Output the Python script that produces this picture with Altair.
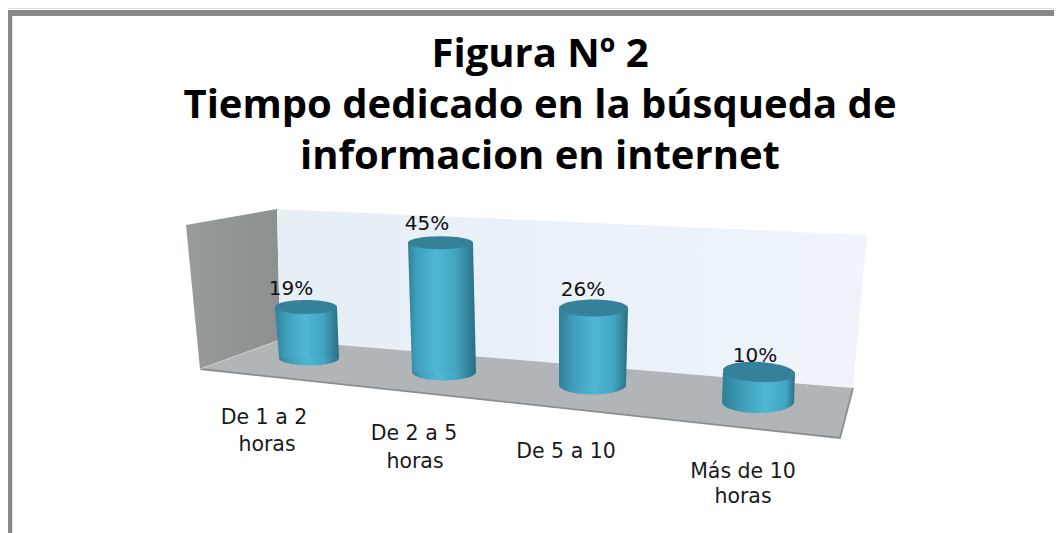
import altair as alt
import pandas as pd

# chart values
categories = ["De 1 a 2 horas", "De 2 a 5 horas", "De 5 a 10", "Más de 10 horas"]
percent = [19, 45, 26, 10]
title_lines = ["Figura Nº 2", "Tiempo dedicado en la búsqueda de", "informacion en internet"]
label_lines = [["De 1 a 2", "horas"], ["De 2 a 5", "horas"], ["De 5 a 10"], ["Más de 10", "horas"]]

# scene geometry, in page pixels
W, H = 1054, 533
left_wall = [(186, 225), (277, 209), (280, 340), (200, 369)]
back_wall = [(277, 209), (867, 235), (853, 388), (280, 340)]
floor = [(200, 369), (280, 340), (853, 388), (840, 438)]
base_y = [358, 372, 385, 402]
px_per_pct = [2.68, 2.87, 2.96, 3.0]
top_x = [(275, 337), (408, 473), (559, 628), (723, 795)]
bot_x = [(279, 339), (412, 476), (559, 626), (722, 794)]
top_ry = [7, 6.5, 8.5, 10]
bot_ry = [7.5, 8.5, 9.5, 11]
highlight = [0.47, 0.42, 0.52, 0.6]
label_x = [291, 427, 583, 755]
label_gap = [12, 13, 12, 10]
cat_x = [[264, 267], [414, 415], [566], [743, 743]]
cat_y = [[424, 451], [440, 468], [458], [478, 503]]

x_scale = alt.Scale(domain=[8, W], range=[0, W - 8], nice=False, zero=False)
y_scale = alt.Scale(domain=[H, 8], range=[H - 8, 0], nice=False, zero=False)
X = alt.X("x:Q", scale=x_scale, axis=None)
Y = alt.Y("y:Q", scale=y_scale, axis=None)


def polygon_rows(pts):
    xs = sorted({p[0] for p in pts})
    rows = []
    n = len(pts)
    for x in xs:
        ys = []
        for i in range(n):
            (x0, y0), (x1, y1) = pts[i], pts[(i + 1) % n]
            if min(x0, x1) <= x <= max(x0, x1):
                if x0 == x1:
                    ys += [y0, y1]
                else:
                    ys.append(y0 + (y1 - y0) * (x - x0) / (x1 - x0))
        rows.append({"x": x, "y": min(ys), "y2": max(ys)})
    return pd.DataFrame(rows)


def h_gradient(stops):
    return alt.Gradient(
        gradient="linear", x1=0, x2=1, y1=0, y2=0,
        stops=[alt.GradientStop(offset=o, color=c) for o, c in stops],
    )


def polygon(pts, fill):
    return alt.Chart(polygon_rows(pts)).mark_area(color=fill, line=False, opacity=1).encode(
        x=X, y=Y, y2="y2:Q"
    )


def polyline(pts, color, width):
    df = pd.DataFrame([{"x": a, "y": b, "i": i} for i, (a, b) in enumerate(pts)])
    return alt.Chart(df).mark_line(color=color, strokeWidth=width).encode(
        x=alt.X("x:Q", scale=x_scale, axis=None, sort=None), y=Y, order="i:Q"
    )


def ellipse(cx, cy, rx, ry, fill, angle=0):
    k = ry / rx
    path = f"M -1 0 A 1 {k:.4f} 0 1 0 1 0 A 1 {k:.4f} 0 1 0 -1 0 Z"
    df = pd.DataFrame([{"x": cx, "y": cy}])
    return alt.Chart(df).mark_point(
        shape=path, size=(2 * rx) ** 2, filled=True, fill=fill, opacity=1,
        strokeWidth=0, angle=angle,
    ).encode(x=X, y=Y)


layers = [
    polygon(left_wall, h_gradient([(0, "#979b9c"), (1, "#8c9091")])),
    polygon(back_wall, h_gradient([(0, "#e6eef6"), (1, "#eef4fa")])),
    polygon(floor, "#b1b5b8"),
    polyline([(200, 369), (840, 438), (853, 388)], "#8b8e90", 1.8),
    polyline([(200, 369), (280, 340)], "#c9cccd", 1),
]

for i, v in enumerate(percent):
    base = base_y[i]
    top = base - v * px_per_pct[i]
    h = highlight[i]
    grad = h_gradient([
        (0, "#2f7f98"), (max(h - 0.3, 0.05), "#3f9fbb"), (h, "#4fb7d5"),
        (min(h + 0.28, 0.92), "#43a5c2"), (1, "#2a6e84"),
    ])
    tl, tr = top_x[i]
    bl, br = bot_x[i]
    bcx, brx = (bl + br) / 2, (br - bl) / 2
    layers.append(ellipse(bcx, base, brx, bot_ry[i], grad))
    layers.append(polygon([(tl, top), (tr, top), (br, base), (bl, base)], grad))
    layers.append(ellipse((tl + tr) / 2, top, (tr - tl) / 2, top_ry[i], "#36819a",
                          angle=3 if i == 3 else 0))

value_df = pd.DataFrame({
    "x": label_x,
    "y": [base_y[i] - percent[i] * px_per_pct[i] - label_gap[i] for i in range(4)],
    "label": [f"{v}%" for v in percent],
})
layers.append(
    alt.Chart(value_df).mark_text(font="DejaVu Sans", fontSize=20, color="#111111",
                                  baseline="alphabetic", align="center").encode(
        x=X, y=Y, text="label:N")
)

cat_rows = []
for i, lines in enumerate(label_lines):
    for j, line in enumerate(lines):
        cat_rows.append({"x": cat_x[i][j], "y": cat_y[i][j], "label": line, "category": categories[i]})
layers.append(
    alt.Chart(pd.DataFrame(cat_rows)).mark_text(font="DejaVu Sans", fontSize=20.5, color="#1a1a1a",
                                                baseline="alphabetic", align="center").encode(
        x=X, y=Y, text="label:N")
)

# gray frame, top and left only
layers.append(alt.Chart(pd.DataFrame({"x": [9.5], "y": [10], "y2": [H]})).mark_rule(
    color="#888888", strokeWidth=5.5).encode(x=X, y=Y, y2="y2:Q"))
layers.append(alt.Chart(pd.DataFrame({"x": [7], "x2": [W], "y": [13]})).mark_rule(
    color="#888888", strokeWidth=6).encode(x=X, x2="x2:Q", y=Y))

chart = alt.layer(*layers).properties(
    width=W - 8,
    height=H - 8,
    padding=0,
    autosize=alt.AutoSizeParams(type="none"),
    title=alt.TitleParams(
        text=title_lines, font="Open Sans", fontSize=40, fontWeight="bold", color="#000000",
        anchor="middle", frame="group", lineHeight=51, offset=-170, dx=9,
    ),
).configure_view(strokeWidth=0, stroke="transparent").configure(background="white")

chart.save("out.html", embed_options={"renderer": "svg", "actions": False})
